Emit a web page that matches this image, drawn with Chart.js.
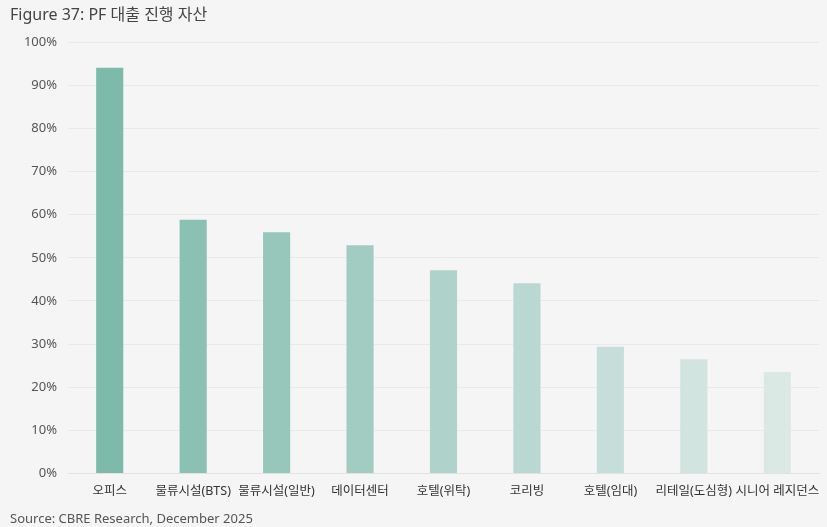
<!DOCTYPE html>
<html>
<head>
<meta charset="utf-8">
<script src="https://cdn.jsdelivr.net/npm/chart.js@4"></script>
<style>
  html, body { margin: 0; padding: 0; background: #f5f5f5; }
  #wrap { width: 827px; height: 527px; }
</style>
</head>
<body>
<div id="wrap"><canvas id="pfChart" width="827" height="527"></canvas></div>
<script>
// data (share of PF loans, %)
const categories = ['오피스', '물류시설(BTS)', '물류시설(일반)', '데이터센터', '호텔(위탁)', '코리빙', '호텔(임대)', '리테일(도심형)', '시니어 레지던스'];
const shares = [94.1, 58.8, 55.9, 52.9, 47.1, 44.1, 29.4, 26.5, 23.5];
const barColors = ['#7dbaa9', '#8bc1b3', '#97c6bb', '#a2cbc2', '#afd2ca', '#bad8d1', '#c6ded9', '#d1e4df', '#dbe9e5'];
const yTicks = [0, 10, 20, 30, 40, 50, 60, 70, 80, 90, 100];

const FONT = "'Noto Sans', 'Noto Sans CJK KR', sans-serif";

const ctx = document.getElementById('pfChart').getContext('2d');
new Chart(ctx, {
  type: 'bar',
  data: {
    labels: categories,
    datasets: [{
      data: shares,
      backgroundColor: barColors,
      borderWidth: 0,
      barPercentage: 0.325,
      categoryPercentage: 1
    }]
  },
  options: {
    responsive: false,
    animation: false,
    devicePixelRatio: 1,
    layout: { padding: { left: 10, right: 8, top: 6, bottom: 0 } },
    plugins: {
      legend: { display: false },
      tooltip: { enabled: false },
      title: {
        display: true,
        text: 'Figure 37: PF 대출 진행 자산',
        align: 'start',
        color: '#444',
        font: { family: FONT, size: 16, weight: 'normal' },
        padding: { top: 0, bottom: 17 }
      },
      subtitle: {
        display: true,
        position: 'bottom',
        text: 'Source: CBRE Research, December 2025',
        align: 'start',
        color: '#555',
        font: { family: FONT, size: 13, weight: 'normal' },
        padding: { top: 1, bottom: 0 }
      }
    },
    scales: {
      x: {
        // let the long last label hang past the plot edge, as in the original
        afterFit: axis => { axis.paddingLeft = 0; axis.paddingRight = 0; },
        grid: { display: false, drawTicks: false },
        border: { color: '#e2e2e2' },
        ticks: {
          color: '#333',
          padding: 11,
          maxRotation: 0,
          autoSkip: false,
          font: { family: FONT, size: 12.5 }
        }
      },
      y: {
        min: 0,
        max: 100,
        afterBuildTicks: axis => { axis.ticks = yTicks.map(v => ({ value: v })); },
        afterFit: axis => { axis.width = 58; },
        grid: { color: '#e9e9e9', drawTicks: false },
        border: { display: false },
        ticks: {
          color: '#555',
          padding: 11,
          font: { family: FONT, size: 13 },
          callback: v => v + '%'
        }
      }
    }
  }
});
</script>
</body>
</html>
